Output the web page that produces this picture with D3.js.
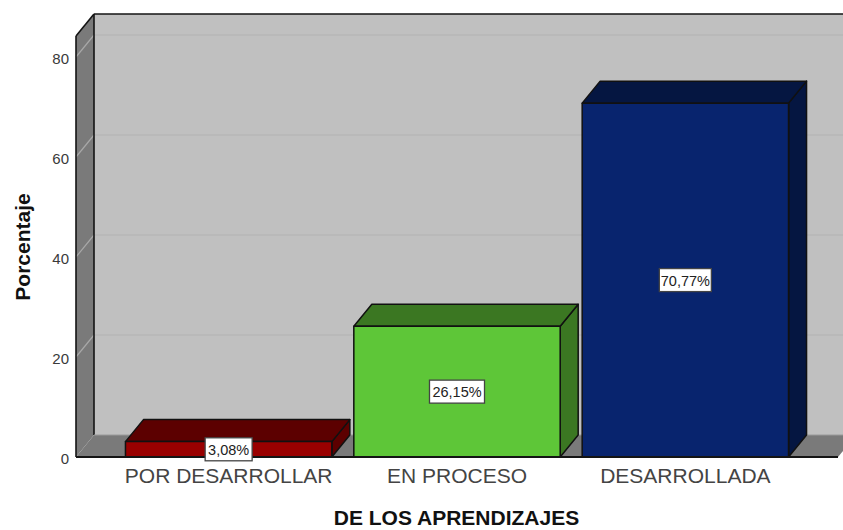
<!DOCTYPE html>
<html><head><meta charset="utf-8">
<script src="https://cdn.jsdelivr.net/npm/d3@7"></script>
<style>html,body{margin:0;padding:0;background:#fff;overflow:hidden}svg{display:block}text{font-family:"Liberation Sans",Arial,sans-serif}</style>
</head><body><div id="c"></div>
<script>
const categories = ["POR DESARROLLAR","EN PROCESO","DESARROLLADA"];
const values = [3.08,26.15,70.77];
const valueLabels = ["3,08%","26,15%","70,77%"];
const tickValues = [0,20,40,60,80];
const frontColors = ["#990000","#5ec638","#08246e"];
const sideColors = ["#5c0000","#3b7722","#051641"];
const W=843,H=530, dx=18, dy=-22;
const svg=d3.select("#c").append("svg").attr("width",W).attr("height",H);
const x=d3.scaleBand().domain(categories).range([76,838]).paddingInner(.0963).paddingOuter(.2166);
const y=d3.scaleLinear().domain([0,80]).range([457,57]);
const topVal=84.2;
const poly=(pts,fill,stroke,sw)=>svg.append("polygon").attr("points",pts.map(p=>p.join(",")).join(" ")).attr("fill",fill).attr("stroke",stroke||"none").attr("stroke-width",sw||0).attr("stroke-linejoin","round");
const [x0,x1]=x.range(), y0=y(0), yT=y(topVal);
// back wall
poly([[x0+dx,yT+dy],[W+30,yT+dy],[W+30,y0+dy],[x0+dx,y0+dy]],"#c0c0c0");
// side wall and floor
poly([[x0,yT],[x0+dx,yT+dy],[x0+dx,y0+dy],[x0,y0]],"#7a7a7a");
poly([[x0,y0],[x0+dx,y0+dy],[x1+dx,y0+dy],[x1,y0]],"#7a7a7a");
// gridlines
tickValues.slice(1).forEach(t=>{
  svg.append("line").attr("x1",x0+dx).attr("x2",W+30).attr("y1",y(t)+dy).attr("y2",y(t)+dy).attr("stroke","#b2b2b2").attr("stroke-width",1.2);
  svg.append("line").attr("x1",x0).attr("x2",x0+dx).attr("y1",y(t)).attr("y2",y(t)+dy).attr("stroke","#a8a8a8").attr("stroke-width",1.2);
});
// frame lines
const line=(a,b,c,d,sw,col)=>svg.append("line").attr("x1",a).attr("y1",b).attr("x2",c).attr("y2",d).attr("stroke",col||"#141414").attr("stroke-width",sw||1.6);
line(x0+dx,yT+dy,W+30,yT+dy);
line(x0+dx,yT+dy,x0+dx,y0+dy);
line(x0,yT,x0+dx,yT+dy);
line(x0,yT,x0,y0);
line(x0+dx,y0+dy,x1+dx,y0+dy,1.2,"#9a9a9a");
// bars
categories.forEach((c,i)=>{
  const l=x(c), r=l+x.bandwidth(), t=y(values[i]), b=y0, st="#111";
  poly([[r,t],[r+dx,t+dy],[r+dx,b+dy],[r,b]],sideColors[i],st,1.5);
  poly([[l,t],[l+dx,t+dy],[r+dx,t+dy],[r,t]],sideColors[i],st,1.5);
  poly([[l,t],[r,t],[r,b],[l,b]],frontColors[i],st,1.5);
});
line(x0,y0,x1,y0,1.8);
// y axis
const yAxis=svg.append("g").attr("transform",`translate(${x0},2)`).call(d3.axisLeft(y).tickValues(tickValues).tickSize(0).tickPadding(7));
yAxis.select(".domain").remove();
yAxis.selectAll("text").attr("font-size",15).attr("fill","#3a3a3a").attr("font-family",'"Liberation Sans",Arial,sans-serif');
// x axis
const xAxis=svg.append("g").attr("transform",`translate(0,${y0})`).call(d3.axisBottom(x).tickSize(0).tickPadding(11));
xAxis.select(".domain").remove();
xAxis.selectAll("text").attr("font-size",21).attr("fill","#444").attr("font-family",'"Liberation Sans",Arial,sans-serif');
// value labels
const boxWidths=[47,55,52];
categories.forEach((c,i)=>{
  const cx=x(c)+x.bandwidth()/2, cy=y(values[i]/2);
  const g=svg.append("g");
  const w=boxWidths[i];
  g.append("rect").attr("x",cx-w/2).attr("y",cy-11.5).attr("width",w).attr("height",23).attr("fill","#fff").attr("stroke","#444").attr("stroke-width",1.3);
  g.append("text").attr("x",cx).attr("y",cy+5.5).attr("text-anchor","middle").attr("font-size",14.5).attr("fill","#222").text(valueLabels[i]);
});
// titles
svg.append("text").attr("x",456.5).attr("y",525).attr("text-anchor","middle").attr("font-size",21).attr("font-weight",700).attr("fill","#111").text("DE LOS APRENDIZAJES");
svg.append("text").attr("transform","translate(30,247) rotate(-90)").attr("text-anchor","middle").attr("font-size",21).attr("font-weight",700).attr("fill","#111").text("Porcentaje");
</script></body></html>
